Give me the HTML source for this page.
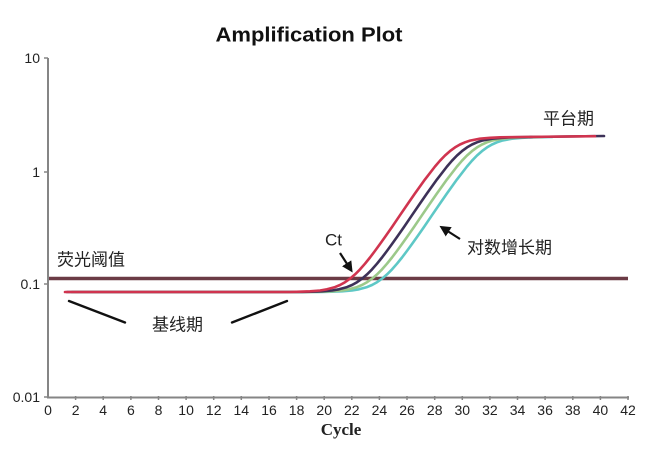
<!DOCTYPE html>
<html>
<head>
<meta charset="utf-8">
<style>
  html,body{margin:0;padding:0;background:#fff;}
  body{width:650px;height:451px;overflow:hidden;}
  svg{display:block;}
  .num{font-family:"Liberation Sans",sans-serif;font-size:14px;fill:#222;}
  .cjk{font-family:"Liberation Sans","Noto Sans CJK SC",sans-serif;font-size:17px;fill:#222;}
</style>
</head>
<body>
<svg width="650" height="451" viewBox="0 0 650 451" xmlns="http://www.w3.org/2000/svg">
  <defs>
    <marker id="ah" markerWidth="11" markerHeight="11" refX="8" refY="5.5" orient="auto" markerUnits="userSpaceOnUse">
      <path d="M0,0 L11,5.5 L0,11 Z" fill="#111"/>
    </marker>
  </defs>

  <!-- Title -->
  <text x="309" y="41.5" text-anchor="middle" font-family="Liberation Sans, sans-serif" font-weight="bold" font-size="20" fill="#111" textLength="187" lengthAdjust="spacingAndGlyphs">Amplification Plot</text>

  <!-- Axes -->
  <line x1="48" y1="58" x2="48" y2="398" stroke="#858585" stroke-width="2"/>
  <line x1="47" y1="397.5" x2="629" y2="397.5" stroke="#858585" stroke-width="2"/>
  <g stroke="#858585" stroke-width="1.5">
    <line x1="44" y1="58" x2="48" y2="58"/>
    <line x1="44" y1="172" x2="48" y2="172"/>
    <line x1="44" y1="284" x2="48" y2="284"/>
    <line x1="44" y1="397" x2="48" y2="397"/>
  </g>
  <g stroke="#858585" stroke-width="1.5">
    <line x1="75.6" y1="396" x2="75.6" y2="400"/>
    <line x1="103.2" y1="396" x2="103.2" y2="400"/>
    <line x1="130.9" y1="396" x2="130.9" y2="400"/>
    <line x1="158.5" y1="396" x2="158.5" y2="400"/>
    <line x1="186.1" y1="396" x2="186.1" y2="400"/>
    <line x1="213.7" y1="396" x2="213.7" y2="400"/>
    <line x1="241.3" y1="396" x2="241.3" y2="400"/>
    <line x1="269" y1="396" x2="269" y2="400"/>
    <line x1="296.6" y1="396" x2="296.6" y2="400"/>
    <line x1="324.2" y1="396" x2="324.2" y2="400"/>
    <line x1="351.8" y1="396" x2="351.8" y2="400"/>
    <line x1="379.4" y1="396" x2="379.4" y2="400"/>
    <line x1="407" y1="396" x2="407" y2="400"/>
    <line x1="434.7" y1="396" x2="434.7" y2="400"/>
    <line x1="462.3" y1="396" x2="462.3" y2="400"/>
    <line x1="489.9" y1="396" x2="489.9" y2="400"/>
    <line x1="517.5" y1="396" x2="517.5" y2="400"/>
    <line x1="545.1" y1="396" x2="545.1" y2="400"/>
    <line x1="572.8" y1="396" x2="572.8" y2="400"/>
    <line x1="600.4" y1="396" x2="600.4" y2="400"/>
    <line x1="628" y1="396" x2="628" y2="400"/>
  </g>

  <!-- Y tick labels -->
  <g class="num" text-anchor="end" dominant-baseline="central">
    <text x="40" y="58">10</text>
    <text x="40" y="172">1</text>
    <text x="40" y="284">0.1</text>
    <text x="40" y="397">0.01</text>
  </g>

  <!-- X tick labels -->
  <g class="num" text-anchor="middle" dominant-baseline="central">
    <text x="48" y="410">0</text>
    <text x="75.6" y="410">2</text>
    <text x="103.2" y="410">4</text>
    <text x="130.9" y="410">6</text>
    <text x="158.5" y="410">8</text>
    <text x="186.1" y="410">10</text>
    <text x="213.7" y="410">12</text>
    <text x="241.3" y="410">14</text>
    <text x="269" y="410">16</text>
    <text x="296.6" y="410">18</text>
    <text x="324.2" y="410">20</text>
    <text x="351.8" y="410">22</text>
    <text x="379.4" y="410">24</text>
    <text x="407" y="410">26</text>
    <text x="434.7" y="410">28</text>
    <text x="462.3" y="410">30</text>
    <text x="489.9" y="410">32</text>
    <text x="517.5" y="410">34</text>
    <text x="545.1" y="410">36</text>
    <text x="572.8" y="410">38</text>
    <text x="600.4" y="410">40</text>
    <text x="628" y="410">42</text>
  </g>

  <!-- X axis title -->
  <text x="341" y="435" text-anchor="middle" font-family="Liberation Serif, serif" font-weight="bold" font-size="17" fill="#222">Cycle</text>

  <!-- Threshold line -->
  <line x1="49" y1="278.5" x2="628" y2="278.5" stroke="#6b3b45" stroke-width="3.5"/>

  <!-- Curves -->
  <g fill="none" stroke-width="2.6" stroke-linejoin="round" stroke-linecap="round">
    <g transform="translate(32,0)" stroke="#5ec8c6">
      <polyline points="40,292 290,292 300,291.7 310,291.3 320,290.5 327,289.3 335,287.1 340,285 345,282.2 350,278.7 355,274.4 360,269.4 365,263.7 370,257.5 375,250.9 380,244 385,237 392,227 400,215.2 408,203.5 415,193.4 425,179.4 435,166.5 440,160.7 445,155.5 450,151.1 455,147.4 460,144.5 465,142.3 470,140.6 480,138.7 490,137.8 500,137.3 520,137"/>
    </g>
    <g transform="translate(22,0)" stroke="#9cc98a">
      <polyline points="50,292 290,292 300,291.7 310,291.3 320,290.5 327,289.3 335,287.1 340,285 345,282.2 350,278.7 355,274.4 360,269.4 365,263.7 370,257.5 375,250.9 380,244 385,237 392,227 400,215.2 408,203.5 415,193.4 425,179.4 435,166.5 440,160.7 445,155.5 450,151.1 455,147.4 460,144.5 465,142.3 470,140.6 480,138.7 490,137.8 500,137.3 520,137"/>
    </g>
    <g transform="translate(12,0)" stroke="#3d3158">
      <polyline points="55,292 290,292 300,291.7 310,291.3 320,290.5 327,289.3 335,287.1 340,285 345,282.2 350,278.7 355,274.4 360,269.4 365,263.7 370,257.5 375,250.9 380,244 385,237 392,227 400,215.2 408,203.5 415,193.4 425,179.4 435,166.5 440,160.7 445,155.5 450,151.1 455,147.4 460,144.5 465,142.3 470,140.6 480,138.7 490,137.8 500,137.3 520,137"/>
    </g>
    <line x1="530" y1="137" x2="604" y2="136" stroke="#3d3158"/>
    <polyline stroke="#d0344f" points="65,292 290,292 300,291.7 310,291.3 320,290.5 327,289.3 335,287.1 340,285 345,282.2 350,278.7 355,274.4 360,269.4 365,263.7 370,257.5 375,250.9 380,244 385,237 392,227 400,215.2 408,203.5 415,193.4 425,179.4 435,166.5 440,160.7 445,155.5 450,151.1 455,147.4 460,144.5 465,142.3 470,140.6 480,138.7 490,137.8 500,137.3 520,137 595,136.2"/>
  </g>

  <!-- Annotation lines for baseline -->
  <g stroke="#111" stroke-width="2.4" stroke-linecap="round">
    <line x1="69" y1="301" x2="125" y2="322.5"/>
    <line x1="232" y1="322.5" x2="287" y2="301"/>
  </g>

  <!-- Arrows -->
  <line x1="340" y1="253" x2="351" y2="270" stroke="#111" stroke-width="2.2" marker-end="url(#ah)"/>
  <line x1="460" y1="239" x2="442" y2="227.5" stroke="#111" stroke-width="2.2" marker-end="url(#ah)"/>

  <!-- Labels -->
  <text x="325" y="240" class="num" style="font-size:17px" dominant-baseline="central">Ct</text>
  <text x="57" y="260" class="cjk" dominant-baseline="central">荧光阈值</text>
  <text x="152" y="325" class="cjk" dominant-baseline="central">基线期</text>
  <text x="543" y="119" class="cjk" dominant-baseline="central">平台期</text>
  <text x="467" y="248" class="cjk" dominant-baseline="central">对数增长期</text>
</svg>
</body>
</html>
